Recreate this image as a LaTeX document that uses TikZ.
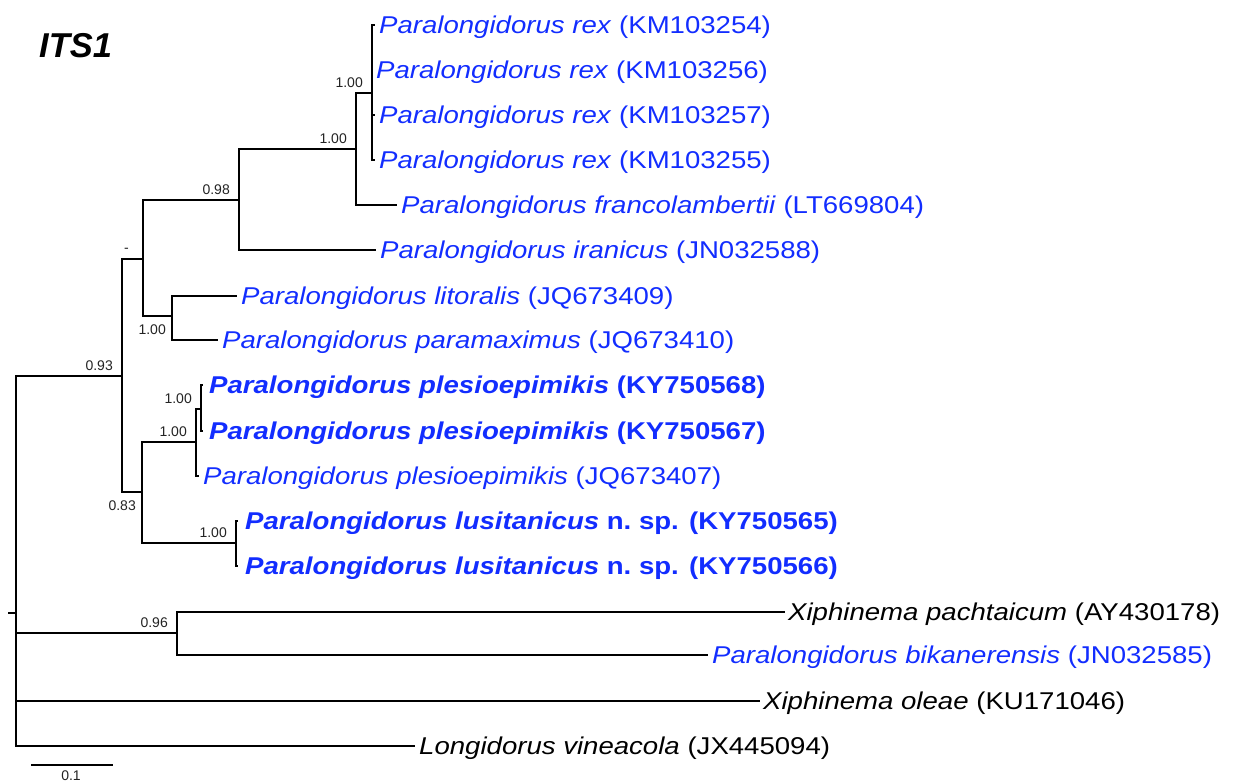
\documentclass[tikz,border=0pt]{standalone}
\usepackage{fontspec}
\setmainfont{Liberation Sans}
\newfontfamily\labfont{Liberation Sans}[FakeStretch=1.135]
\definecolor{tblue}{RGB}{18,45,255}
\definecolor{supcol}{RGB}{35,35,35}
\begin{document}
\begin{tikzpicture}[x=1pt,y=-1pt,
  branch/.style={line width=1.9pt, line join=miter},
  leaf/.style={anchor=base west, inner sep=0pt, xshift=4pt, yshift=-8.7pt,
    font={\labfont\fontsize{24.3}{28}\selectfont}, text=tblue},
  blk/.style={text=black},
  sup/.style={anchor=base east, inner sep=0pt, xshift=-9pt, yshift=5.5pt,
    font={\fontsize{14}{16}\selectfont}, text=supcol},
  supb/.style={anchor=north east, inner sep=0pt, xshift=-6pt, yshift=-9pt,
    font={\fontsize{14}{16}\selectfont}, text=supcol}]
\useasboundingbox (0,0) rectangle (1233,782);

% title
\node[anchor=base west, inner sep=0pt, font={\fontsize{34.5}{40}\selectfont\bfseries\itshape}] (title) at (39,57) {ITS1};

% internal nodes
\coordinate (r0) at (8,613);
\coordinate (R) at (16,613);
\coordinate (E) at (122,376);
\coordinate (D) at (143,259);
\coordinate (C) at (239,200);
\coordinate (B) at (356,149);
\coordinate (A) at (372,93);
\coordinate (F) at (172,316);
\coordinate (K) at (142,492);
\coordinate (G) at (196,442);
\coordinate (P) at (201,409);
\coordinate (L) at (236,543);
\coordinate (H) at (177,633);

% leaf tips
\coordinate (l1) at (375,25);
\coordinate (l2) at (372,70);
\coordinate (l3) at (375,115);
\coordinate (l4) at (375,160);
\coordinate (l5) at (397,205);
\coordinate (l6) at (376,250);
\coordinate (l7) at (237,296);
\coordinate (l8) at (218,340);
\coordinate (l9) at (203,385);
\coordinate (l10) at (203,431);
\coordinate (l11) at (199,476);
\coordinate (l12) at (238,521);
\coordinate (l13) at (238,566);
\coordinate (l14) at (785,612);
\coordinate (l15) at (708,655);
\coordinate (l16) at (760,701);
\coordinate (l17) at (415,746);

% branches
\draw[branch] (r0) -- (R);
\draw[branch] (R) |- (E);
\draw[branch] (R) |- (H);
\draw[branch] (R) |- (l16);
\draw[branch] (R) |- (l17);
\draw[branch] (E) |- (D);
\draw[branch] (E) |- (K);
\draw[branch] (D) |- (C);
\draw[branch] (D) |- (F);
\draw[branch] (C) |- (B);
\draw[branch] (C) |- (l6);
\draw[branch] (B) |- (A);
\draw[branch] (B) |- (l5);
\draw[branch] (A) |- (l1);
\draw[branch] (A) |- (l2);
\draw[branch] (A) |- (l3);
\draw[branch] (A) |- (l4);
\draw[branch] (F) |- (l7);
\draw[branch] (F) |- (l8);
\draw[branch] (K) |- (G);
\draw[branch] (K) |- (L);
\draw[branch] (G) |- (P);
\draw[branch] (G) |- (l11);
\draw[branch] (P) |- (l9);
\draw[branch] (P) |- (l10);
\draw[branch] (L) |- (l12);
\draw[branch] (L) |- (l13);
\draw[branch] (H) |- (l14);
\draw[branch] (H) |- (l15);

% support values
\node[sup] (sA) at (A) {1.00};
\node[sup] (sB) at (B) {1.00};
\node[sup] (sC) at (C) {0.98};
\node[sup, xshift=-5pt, yshift=1.5pt] (sD) at (D) {-};
\node[sup] (sE) at (E) {0.93};
\node[supb] (sF) at (F) {1.00};
\node[supb] (sK) at (K) {0.83};
\node[sup] (sG) at (G) {1.00};
\node[sup] (sP) at (P) {1.00};
\node[sup] (sL) at (L) {1.00};
\node[sup] (sH) at (H) {0.96};

% leaf labels
\node[leaf] (t1) at (l1) {\textit{Paralongidorus rex} (KM103254)};
\node[leaf] (t2) at (l2) {\textit{Paralongidorus rex} (KM103256)};
\node[leaf] (t3) at (l3) {\textit{Paralongidorus rex} (KM103257)};
\node[leaf] (t4) at (l4) {\textit{Paralongidorus rex} (KM103255)};
\node[leaf] (t5) at (l5) {\textit{Paralongidorus francolambertii} (LT669804)};
\node[leaf] (t6) at (l6) {\textit{Paralongidorus iranicus} (JN032588)};
\node[leaf] (t7) at (l7) {\textit{Paralongidorus litoralis} (JQ673409)};
\node[leaf] (t8) at (l8) {\textit{Paralongidorus paramaximus} (JQ673410)};
\node[leaf, xshift=2pt] (t9) at (l9) {\bfseries\textit{Paralongidorus plesioepimikis} (KY750568)};
\node[leaf, xshift=2pt] (t10) at (l10) {\bfseries\textit{Paralongidorus plesioepimikis} (KY750567)};
\node[leaf] (t11) at (l11) {\textit{Paralongidorus plesioepimikis} (JQ673407)};
\node[leaf, xshift=3pt] (t12) at (l12) {\bfseries\textit{Paralongidorus lusitanicus} n.\ sp. (KY750565)};
\node[leaf, xshift=3pt] (t13) at (l13) {\bfseries\textit{Paralongidorus lusitanicus} n.\ sp. (KY750566)};
\node[leaf, blk, xshift=-1pt] (t14) at (l14) {\textit{Xiphinema pachtaicum} (AY430178)};
\node[leaf] (t15) at (l15) {\textit{Paralongidorus bikanerensis} (JN032585)};
\node[leaf, blk, xshift=-1pt] (t16) at (l16) {\textit{Xiphinema oleae} (KU171046)};
\node[leaf, blk] (t17) at (l17) {\textit{Longidorus vineacola} (JX445094)};

% scale bar
\coordinate (sb1) at (31,765);
\coordinate (sb2) at (113,765);
\draw[branch] (sb1) -- (sb2);
\node[anchor=north, inner sep=0pt, font={\fontsize{14}{16}\selectfont}, text=supcol] (sbl) at (71,771) {0.1};
\end{tikzpicture}
\end{document}
